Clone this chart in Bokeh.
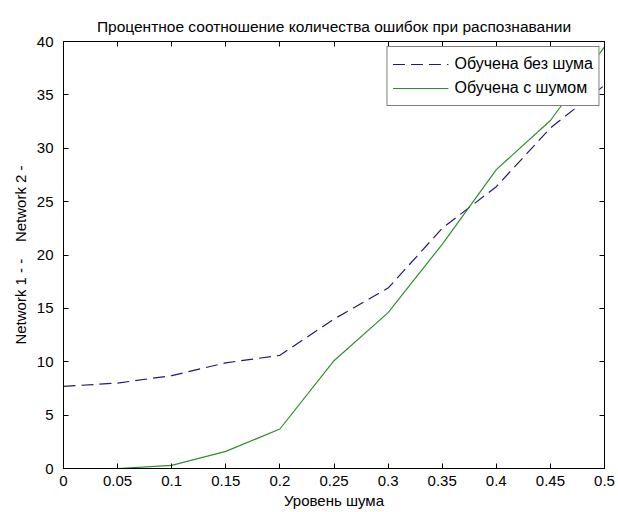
from bokeh.plotting import figure
from bokeh.models import LinearAxis, Range1d, FixedTicker, Legend, LegendItem, Title
from bokeh.embed import file_html
from bokeh.resources import INLINE

noise = [0.0, 0.05, 0.1, 0.15, 0.2, 0.25, 0.3, 0.35, 0.4, 0.45, 0.5]
net1 = [7.7, 8.0, 8.7, 9.9, 10.6, 14.0, 16.9, 22.5, 26.4, 31.9, 35.9]
net2 = [0.0, 0.0, 0.3, 1.6, 3.7, 10.1, 14.6, 21.0, 28.0, 32.6, 39.5]
x_ticks = [0, 0.05, 0.1, 0.15, 0.2, 0.25, 0.3, 0.35, 0.4, 0.45, 0.5]
y_ticks = [0, 5, 10, 15, 20, 25, 30, 35, 40]
title = "Процентное соотношение количества ошибок при распознавании"
xlabel = "Уровень шума"
ylabel = "Network 1 - -\u00a0\u00a0\u00a0 Network 2 -"
labels = ["Обучена без шума", "Обучена с шумом"]

FONT = "Liberation Sans"

p = figure(width=618, height=512, output_backend="svg", toolbar_location=None,
           x_range=Range1d(0, 0.5), y_range=Range1d(0, 40),
           min_border_left=63, min_border_right=14, min_border_top=41, min_border_bottom=44)
p.grid.visible = False
p.outline_line_color = "black"
p.outline_line_width = 1
p.background_fill_color = "white"
p.border_fill_color = "white"

for ax in [p.xaxis[0], p.yaxis[0]]:
    ax.major_tick_in = 5
    ax.major_tick_out = 0
    ax.minor_tick_line_color = None
    ax.axis_line_color = "black"
    ax.major_tick_line_color = "black"
    ax.major_label_text_font = FONT
    ax.major_label_text_font_size = "15px"
    ax.major_label_text_color = "black"
    ax.axis_label_text_font = FONT
    ax.axis_label_text_font_size = "15px"
    ax.axis_label_text_font_style = "normal"
    ax.axis_label_text_color = "black"

p.xaxis[0].ticker = FixedTicker(ticks=x_ticks)
p.yaxis[0].ticker = FixedTicker(ticks=y_ticks)
p.xaxis[0].major_label_standoff = 7
p.yaxis[0].major_label_standoff = 10
p.xaxis[0].axis_label = xlabel
p.xaxis[0].axis_label_standoff = 3
p.yaxis[0].axis_label = ylabel
p.yaxis[0].axis_label_standoff = 5

top = LinearAxis(ticker=FixedTicker(ticks=x_ticks), major_label_text_color=None,
                 major_tick_in=5, major_tick_out=0, minor_tick_line_color=None,
                 axis_line_color="black", major_label_standoff=0)
right = LinearAxis(ticker=FixedTicker(ticks=y_ticks), major_label_text_color=None,
                   major_tick_in=5, major_tick_out=0, minor_tick_line_color=None,
                   axis_line_color="black", major_label_standoff=0)
p.add_layout(top, "above")
p.add_layout(right, "right")

t = Title(text=title, align="center", text_font=FONT, text_font_size="15.5px",
          text_font_style="normal", text_color="black", offset=0, standoff=14)
p.add_layout(t, "above")

r1 = p.line(noise, net1, line_color="#1c1c78", line_width=1.2, line_dash="12 6")
r2 = p.line(noise, net2, line_color="#2f8f2f", line_width=1.2)

legend = Legend(items=[LegendItem(label=labels[0], renderers=[r1]),
                       LegendItem(label=labels[1], renderers=[r2])],
                location="top_right", border_line_color="black", border_line_width=1,
                label_text_font=FONT, label_text_font_size="16px", label_text_color="black",
                glyph_width=56, glyph_height=24, label_height=24, spacing=0,
                padding=5, margin=5, label_standoff=6, background_fill_alpha=1)
p.add_layout(legend, "center")

open("out.html", "w").write(file_html(p, INLINE))
